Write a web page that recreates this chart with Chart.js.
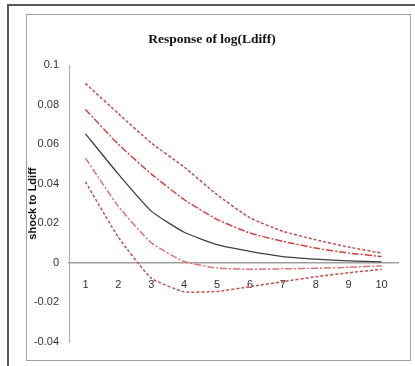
<!DOCTYPE html>
<html>
<head>
<meta charset="utf-8">
<script src="https://cdn.jsdelivr.net/npm/chart.js@4/dist/chart.umd.min.js"></script>
<style>
  body { margin: 0; background: #fff; }
  #frame { position: absolute; left: 7px; top: 4px; width: 420px; height: 380px;
           border-top: 2px solid #5a5a5a; border-left: 2px solid #5a5a5a; }
  #box { position: absolute; left: 26px; top: 14px; width: 383px; height: 345px;
         border: 1.5px solid #a0a0a0; }
  #wrap { position: absolute; left: 0; top: 0; width: 415px; height: 366px; }
</style>
</head>
<body>
<div id="frame"></div>
<div id="box"></div>
<div id="wrap"><canvas id="grafico" width="415" height="366"></canvas></div>
<script>
// periodos y respuestas
const periodos = ['1', '2', '3', '4', '5', '6', '7', '8', '9', '10'];
const respuesta = [0.0653, 0.0449, 0.0262, 0.0155, 0.0092, 0.0058, 0.0032, 0.0019, 0.0010, 0.0005];
const sup95 = [0.0908, 0.0755, 0.0607, 0.0485, 0.0345, 0.0228, 0.0160, 0.0117, 0.0080, 0.0050];
const sup68 = [0.0776, 0.0600, 0.0450, 0.0320, 0.0220, 0.0151, 0.0109, 0.0075, 0.0050, 0.0032];
const inf68 = [0.0530, 0.0286, 0.0102, 0.0007, -0.0026, -0.0032, -0.0030, -0.0027, -0.0022, -0.0015];
const inf95 = [0.0410, 0.0130, -0.0077, -0.0146, -0.0144, -0.0120, -0.0095, -0.0070, -0.0050, -0.0032];
const yTicks = [-0.04, -0.02, 0, 0.02, 0.04, 0.06, 0.08, 0.1];

const rojo = '#c0504d';
const linea = (data, color, dash, width) => ({
  data, borderColor: color, borderDash: dash, borderWidth: width,
  pointRadius: 0, tension: 0.15, fill: false
});

const ctx = document.getElementById('grafico').getContext('2d');
new Chart(ctx, {
  type: 'line',
  data: {
    labels: periodos,
    datasets: [
      linea(sup95, rojo, [3, 2], 1.5),
      linea(sup68, '#d9403d', [7, 2, 2, 2], 1.5),
      linea(respuesta, '#404040', [], 1.3),
      linea(inf68, '#e07370', [7, 2, 2, 2], 1.5),
      linea(inf95, rojo, [3, 2], 1.5)
    ]
  },
  options: {
    responsive: false,
    animation: false,
    layout: { padding: { left: 26, right: 17, top: 0, bottom: 24 } },
    plugins: {
      legend: { display: false },
      tooltip: { enabled: false },
      title: {
        display: true,
        text: 'Response of log(Ldiff)',
        color: '#111',
        font: { family: 'Liberation Serif', size: 13.5, weight: 'bold' },
        padding: { top: 31, bottom: 18 }
      }
    },
    scales: {
      x: {
        position: { y: 0 },
        offset: true,
        grid: { display: false, drawTicks: false },
        border: { display: true, color: '#a0a0a0', width: 1.5 },
        ticks: { color: '#333', padding: 15, font: { family: 'Liberation Sans', size: 11 } }
      },
      y: {
        min: -0.04,
        max: 0.1,
        afterBuildTicks: s => { s.ticks = yTicks.map(v => ({ value: v })); },
        afterFit: s => { s.width = 43; },
        grid: { display: false, drawTicks: false },
        border: { display: true, color: '#a6a6a6', width: 1 },
        ticks: {
          color: '#333', padding: 10,
          font: { family: 'Liberation Sans', size: 11 },
          callback: v => String(Number(v.toFixed(2)))
        },
        title: {
          display: true,
          text: 'shock to Ldiff',
          color: '#111',
          padding: 0,
          font: { family: 'Liberation Sans', size: 11, weight: 'bold' }
        }
      }
    }
  }
});
</script>
</body>
</html>
